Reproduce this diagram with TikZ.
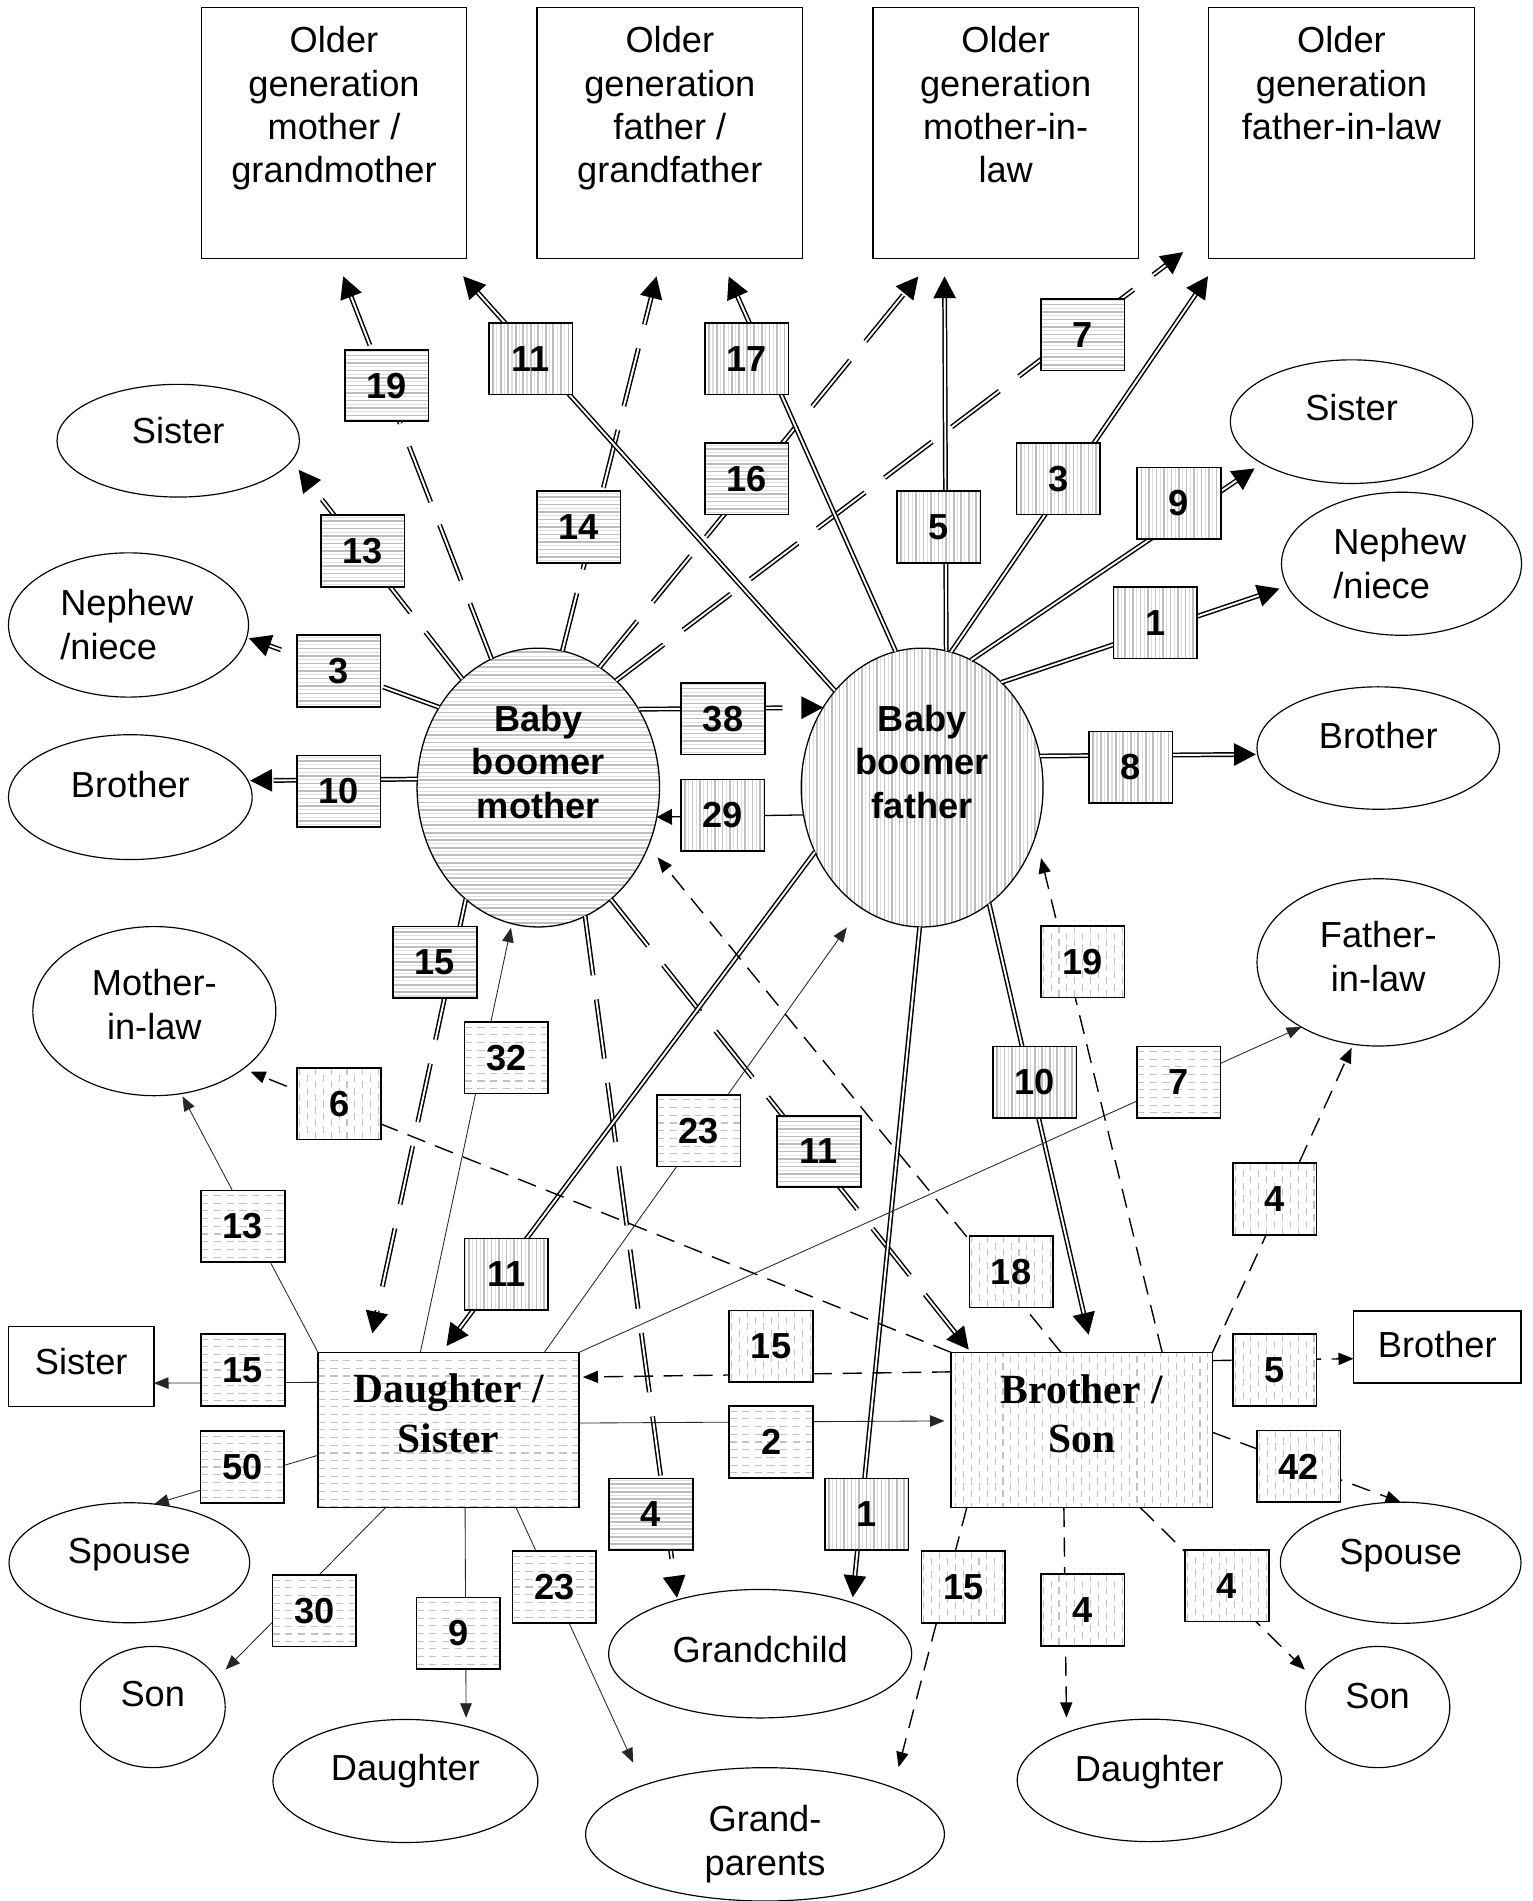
\documentclass[tikz,border=0pt]{standalone}
\usepackage{fontspec}
\setmainfont{Liberation Sans}
\newfontfamily\tnrfont{Liberation Serif}
\usetikzlibrary{shapes.geometric,arrows.meta}
\newcommand{\btxt}[3]{\parbox[c][#1][t]{#2}{\centering #3}}
\newcommand{\ltxt}[3]{\parbox[c][#1][t]{#2}{\raggedright #3}}
\tikzset{
  stripe/.style={draw=black!26, line width=0.8pt},
  stripelt/.style={draw=black!13, line width=0.5pt},
  dstripe/.style={draw=black!24, line width=0.5pt, dash pattern=on 0.12cm off 0.09cm},
  hstr/.style={path picture={\foreach \k in {-#1,...,#1}{\draw[stripe] ([shift={(-3cm,\k*0.124cm)}]path picture bounding box.center) -- ++(6cm,0pt); \draw[stripelt] ([shift={(-3cm,\k*0.124cm+0.062cm)}]path picture bounding box.center) -- ++(6cm,0pt);}}},
  vstr/.style={path picture={\foreach \k in {-#1,...,#1}{\draw[stripe] ([shift={(\k*0.124cm,-3cm)}]path picture bounding box.center) -- ++(0pt,6cm); \draw[stripelt] ([shift={(\k*0.124cm+0.062cm,-3cm)}]path picture bounding box.center) -- ++(0pt,6cm);}}},
  hdsh/.style={path picture={\foreach \k in {-#1,...,#1}{\draw[dstripe] ([shift={(-3cm,\k*0.254cm)}]path picture bounding box.center) -- ++(6cm,0pt); \draw[dstripe] ([shift={(-3cm,\k*0.254cm+0.127cm)}]path picture bounding box.center) -- ++(6cm,0pt);}}},
  vdsh/.style={path picture={\foreach \k in {-#1,...,#1}{\draw[dstripe] ([shift={(\k*0.26cm,-3cm)}]path picture bounding box.center) -- ++(0pt,6cm); \draw[dstripe,dash phase=0.1cm] ([shift={(\k*0.26cm+0.13cm,-3cm)}]path picture bounding box.center) -- ++(0pt,6cm);}}},
  topbox/.style={rectangle, draw, line width=0.6pt, minimum width=4.38cm, minimum height=4.14cm, inner sep=0pt, outer sep=0pt, font=\fontsize{17}{20.3}\selectfont},
  ell/.style={ellipse, draw, line width=0.55pt, fill=white, inner sep=0pt, outer sep=0pt, font=\fontsize{17}{20.5}\selectfont},
  rbox/.style={rectangle, draw, line width=0.6pt, fill=white, inner sep=0pt, outer sep=0pt, font=\fontsize{17}{20.5}\selectfont},
  bigbox/.style={rectangle, draw, line width=0.75pt, fill=white, inner sep=0pt, outer sep=0pt, minimum width=4.31cm, minimum height=2.56cm, font=\tnrfont\bfseries\fontsize{19.5}{23.3}\selectfont},
  boomer/.style={ellipse, draw, line width=0.6pt, fill=white, inner sep=0pt, outer sep=0pt, minimum width=4cm, minimum height=4.6cm, font=\bfseries\fontsize{17}{20.5}\selectfont},
  nbox/.style={rectangle, draw, line width=0.75pt, fill=white, minimum width=1.38cm, minimum height=1.18cm, inner sep=0pt, outer sep=0pt, font=\bfseries\fontsize{17}{19}\selectfont},
  nboxM/.style={nbox, hstr=5},
  nboxF/.style={nbox, vstr=6},
  nboxD/.style={nbox, hdsh=3},
  nboxS/.style={nbox, vdsh=3},
  mline/.style={line width=0.7pt, double=white, double distance=0.9pt, dash pattern=on 28pt off 11.5pt, -{Triangle[length=0.36cm,width=0.37cm]}},
  fline/.style={line width=0.7pt, double=white, double distance=0.9pt, -{Triangle[length=0.36cm,width=0.37cm]}},
  dline/.style={line width=0.4pt, draw=black!85, -{Triangle[length=0.24cm,width=0.19cm]}},
  sline/.style={line width=0.65pt, dash pattern=on 9pt off 5pt, -{Triangle[length=0.25cm,width=0.2cm]}},
  pline/.style={line width=0.6pt, -{Triangle[length=0.25cm,width=0.26cm]}}
}
\begin{document}
\begin{tikzpicture}[x=0.02cm, y=-0.02cm]
\useasboundingbox (0,0) rectangle (1264,1568);
\fill[white] (0,0) rectangle (1264,1568);

% older generation boxes
\node[topbox] (b1) at (275.5,109.5) {\btxt{3.5cm}{4.2cm}{Older\\generation\\mother /\\grandmother}};
\node[topbox] (b2) at (552.5,109.5) {\btxt{3.5cm}{4.2cm}{Older\\generation\\father /\\grandfather}};
\node[topbox] (b3) at (829.5,109.5) {\btxt{3.5cm}{4.2cm}{Older\\generation\\mother-in-\\law}};
\node[topbox] (b4) at (1106.5,109.5) {\btxt{3.5cm}{4.2cm}{Older\\generation\\father-in-law}};

% baby boomers
\node[boomer, hstr=19] (mom) at (444,649.6) {\btxt{2.73cm}{2.5cm}{Baby\\boomer\\mother}};
\node[boomer, vstr=17, minimum width=3.99cm] (dad) at (760.6,649.6) {\btxt{2.73cm}{2.5cm}{Baby\\boomer\\father}};

% children
\node[bigbox, hdsh=6] (dau) at (370,1179.4) {\btxt{1.84cm}{4cm}{Daughter /\\Sister}};
\node[bigbox, vdsh=9] (son) at (892.3,1179.5) {\btxt{1.84cm}{4cm}{Brother /\\Son}};

% left side
\node[ell, minimum width=4cm, minimum height=1.86cm] (sisL) at (147,363.5) {\btxt{0.78cm}{2.2cm}{Sister}};
\node[ell, minimum width=3.96cm, minimum height=2.38cm] (nepL) at (106,515.5) {\ltxt{1.18cm}{2.25cm}{Nephew\\/niece}};
\node[ell, minimum width=4.02cm, minimum height=2.06cm] (broL) at (107.5,657.5) {\btxt{0.86cm}{2.4cm}{Brother}};
\node[ell, minimum width=4.01cm, minimum height=2.79cm] (milL) at (127.3,834) {\btxt{1.38cm}{2.4cm}{Mother-\\in-law}};
\node[rbox, minimum width=2.4cm, minimum height=1.32cm] (sisB) at (67,1127) {\btxt{0.61cm}{2cm}{Sister}};
\node[ell, minimum width=3.97cm, minimum height=1.98cm] (spL) at (106.7,1289) {\btxt{0.82cm}{2.4cm}{Spouse}};
\node[ell, minimum width=2.39cm, minimum height=2cm] (sonL) at (126,1408) {\btxt{0.86cm}{1.4cm}{Son}};
\node[ell, minimum width=4.37cm, minimum height=2.03cm] (dauL) at (334.4,1469) {\btxt{0.88cm}{2.8cm}{Daughter}};
\node[ell, minimum width=5cm, minimum height=2.12cm] (gc) at (627,1364) {\btxt{0.58cm}{3.2cm}{Grandchild}};
\node[ell, minimum width=5.92cm, minimum height=2.2cm] (gp) at (631,1513) {\btxt{0.96cm}{2.4cm}{Grand-\\parents}};

% right side
\node[ell, minimum width=4cm, minimum height=2.04cm] (sisR) at (1114.8,347.8) {\btxt{0.9cm}{2.2cm}{Sister}};
\node[ell, minimum width=3.96cm, minimum height=2.36cm] (nepR) at (1156,465) {\ltxt{1.16cm}{2.25cm}{Nephew\\/niece}};
\node[ell, minimum width=4cm, minimum height=2.02cm] (broR) at (1136.8,617) {\btxt{0.84cm}{2.4cm}{Brother}};
\node[ell, minimum width=4cm, minimum height=2.76cm] (filR) at (1136.8,793.8) {\btxt{1.36cm}{2.4cm}{Father-\\in-law}};
\node[rbox, minimum width=2.76cm, minimum height=1.19cm] (broB) at (1185.5,1111) {\btxt{0.52cm}{2.4cm}{Brother}};
\node[ell, minimum width=3.97cm, minimum height=2cm] (spR) at (1155.3,1289) {\btxt{0.78cm}{2.4cm}{Spouse}};
\node[ell, minimum width=2.38cm, minimum height=2cm] (sonR) at (1136.3,1408) {\btxt{0.8cm}{1.4cm}{Son}};
\node[ell, minimum width=4.36cm, minimum height=2.02cm] (dauR) at (948,1468.5) {\btxt{0.82cm}{2.8cm}{Daughter}};

% mother's connectors
\draw[mline, shorten >=0.32cm] (mom.110.75) -- (b1.271);
\draw[mline, shorten >=0.19cm] (mom.125) -- (sisL.350.06);
\draw[mline, shorten >=0.04cm] (mom.141.7) -- (nepL.354.9);
\draw[mline, shorten >=0.04cm] (mom.176.2) -- (broL.8.55);
\draw[mline, shorten >=0.31cm] (mom.80.5) -- (b2.266);
\draw[mline, shorten >=0.39cm] (mom.63.1) -- (b3.240.8);
\draw[mline, shorten >=0.53cm] (mom.54.04) -- (b4.217.3);
\draw[mline] (mom.38.6) -- (dad.141.3);
\draw[mline, shorten >=0.32cm] (mom.237.5) -- (dau.136.5);
\draw[mline, shorten >=0.035cm] (mom.290.7) -- (gc.147.2);
\draw[mline, shorten >=0.06cm] (mom.303) -- (son.145.15);

% father's connectors
\draw[fline, shorten >=0.40cm] (dad.132.4) -- (b1.312.85);
\draw[fline, shorten >=0.33cm] (dad.101.5) -- (b2.292.4);
\draw[fline, shorten >=0.30cm] (dad.80.46) -- (b3.244.3);
\draw[fline, shorten >=0.36cm] (dad.78.2) -- (b4.226.1);
\draw[fline, shorten >=0.15cm] (dad.69.75) -- (sisR.205.8);
\draw[fline, shorten >=0.14cm] (dad.53.89) -- (nepR.191.1);
\draw[fline, shorten >=0.03cm] (dad.15.39) -- (broR.183.4);
\draw[pline] (dad.193.4) -- (mom.346.3);
\draw[fline, shorten >=0.30cm] (dad.300.96) -- (son.82.52);
\draw[fline, shorten >=0.09cm] (dad.269.7) -- (gc.29.26);
\draw[fline, shorten >=0.13cm] (dad.211.4) -- (dau.95.1);

% daughter's connectors
\draw[dline, shorten >=0.05cm] (dau.north west) -- (milL.288.3);
\draw[dline, shorten >=0.07cm] (dau.110.3) -- (mom.259.8);
\draw[dline, shorten >=0.40cm] (dau.39.37) -- (dad.243.6);
\draw[dline] (dau.north east) -- (filR.220.3);
\draw[dline] (dau.160.2) -- (sisB.347.2);
\draw[dline, shorten >=0.11cm] (dau.3.08) -- (son.176.86);
\draw[dline] (dau.191.6) -- (spL.67.07);
\draw[dline, shorten >=0.21cm] (dau.231.7) -- (sonL.24.26);
\draw[dline, shorten >=0.14cm] (dau.282.3) -- (dauL.42.4);
\draw[dline, shorten >=0.41cm] (dau.311.3) -- (gp.158.1);

% son's connectors
\draw[sline, shorten >=0.13cm] (son.north west) -- (milL.327.5);
\draw[sline, shorten >=0.24cm] (son.105.96) -- (mom.332.65);
\draw[sline, shorten >=0.38cm] (son.44.9) -- (dad.337.8);
\draw[sline, shorten >=0.065cm] (son.north east) -- (filR.253.9);
\draw[sline, shorten >=0.06cm] (son.156.96) -- (dau.22.97);
\draw[sline] (son.28.55) -- (broB.188.2);
\draw[sline] (son.359.2) -- (spR.north);
\draw[sline, shorten >=0.21cm] (son.307.55) -- (sonR.156.6);
\draw[sline, shorten >=0.25cm] (son.257.9) -- (dauR.150.7);
\draw[sline, shorten >=0.35cm] (son.214.1) -- (gp.20.67);

% mother's numbers
\node[nboxM] (m19) at (319,318) {19};
\node[nboxM] (m13) at (299.3,454.5) {13};
\node[nboxM] (m3) at (279.4,553.5) {3};
\node[nboxM] (m10) at (279.4,652.5) {10};
\node[nboxM] (m14) at (477.4,434.7) {14};
\node[nboxM] (m16) at (616,395) {16};
\node[nboxM] (m7) at (893,276) {7};
\node[nboxM] (m38) at (596.4,592.7) {38};
\node[nboxM] (m15) at (358.7,793.6) {15};
\node[nboxM] (m4) at (537,1249) {4};
\node[nboxM] (m11) at (675.5,949.8) {11};

% father's numbers
\node[nboxF] (f11a) at (437.8,296) {11};
\node[nboxF] (f17) at (616,296) {17};
\node[nboxF] (f5) at (774.2,434.7) {5};
\node[nboxF] (f3) at (873,394.8) {3};
\node[nboxF] (f9) at (972.4,415) {9};
\node[nboxF] (f1a) at (953,513.7) {1};
\node[nboxF] (f8) at (932.7,632.7) {8};
\node[nboxF] (f29) at (596,672.3) {29};
\node[nboxF] (f10) at (853.4,892.8) {10};
\node[nboxF] (f1b) at (714.8,1249) {1};
\node[nboxF] (f11b) at (417.7,1051) {11};

% daughter's numbers
\node[nboxD] (d13) at (200.4,1011.5) {13};
\node[nboxD] (d32) at (417.7,872.6) {32};
\node[nboxD] (d23a) at (576.3,932.6) {23};
\node[nboxD] (d7) at (972.3,892.6) {7};
\node[nboxD] (d15) at (200.4,1130) {15};
\node[nboxD] (d2) at (636,1189.4) {2};
\node[nboxD] (d50) at (199.9,1210) {50};
\node[nboxD] (d30) at (259.2,1328.7) {30};
\node[nboxD] (d9) at (377.9,1347.3) {9};
\node[nboxD] (d23b) at (457.3,1309) {23};

% son's numbers
\node[nboxS] (s6) at (279.7,910.5) {6};
\node[nboxS] (s18) at (834,1049) {18};
\node[nboxS] (s19) at (893,793.3) {19};
\node[nboxS] (s4a) at (1051.3,989) {4};
\node[nboxS] (s15a) at (636,1110.3) {15};
\node[nboxS] (s5) at (1051.3,1130) {5};
\node[nboxS] (s42) at (1071.3,1209.5) {42};
\node[nboxS] (s4b) at (1012,1308) {4};
\node[nboxS] (s4c) at (893,1328) {4};
\node[nboxS] (s15b) at (794.5,1309) {15};
\end{tikzpicture}
\end{document}
